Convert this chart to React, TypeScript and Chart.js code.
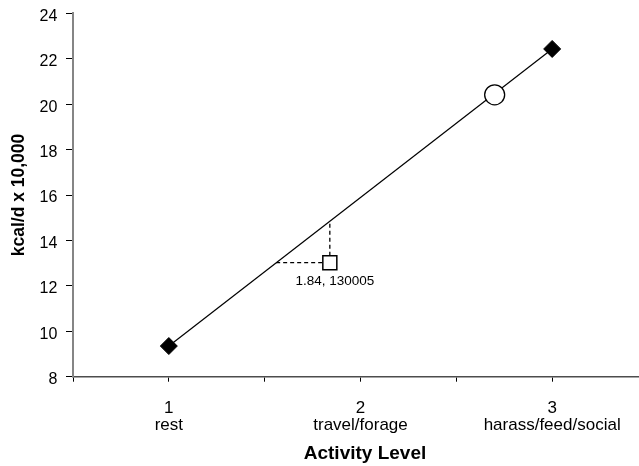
import React, { useEffect, useRef } from "react";
import { Chart, registerables } from "chart.js";

Chart.register(...registerables);

// ---- data ----
const activityLevels = [1, 2, 3];
const activityNames = ["rest", "travel/forage", "harass/feed/social"];
const fitX = [1, 3];
const fitY = [9.35, 22.43];
const circleX = [2.7];
const circleY = [20.41];
const squareX = [1.84];
const squareY = [13.02];
const squareNote = "1.84, 130005";
const dashVX = [1.84, 1.84];
const dashVY = [13.02, 14.8];
const dashHX = [1.56, 1.84];
const dashHY = [13.02, 13.02];
const xTickValues = [0.5, 1, 1.5, 2, 2.5, 3];
const yTitle = "kcal/d x 10,000";
const xTitle = "Activity Level";

const FONT = '"Liberation Sans", Arial, Helvetica, sans-serif';

const toPts = (xs: number[], ys: number[]) => xs.map((x, i) => ({ x, y: ys[i] }));

const notePlugin = {
  id: "pointNote",
  afterDatasetsDraw(chart: any) {
    const meta = chart.getDatasetMeta(0);
    const pt = meta.data[0];
    if (!pt) return;
    const ctx = chart.ctx;
    ctx.save();
    ctx.font = `13.5px ${FONT}`;
    ctx.fillStyle = "#000";
    ctx.textAlign = "center";
    ctx.textBaseline = "alphabetic";
    ctx.fillText(squareNote, pt.x + 5, pt.y + 22);
    ctx.restore();
  },
};

export default function App() {
  const ref = useRef<HTMLCanvasElement | null>(null);

  useEffect(() => {
    if (!ref.current) return;
    const chart = new Chart(ref.current, {
      type: "scatter",
      data: {
        datasets: [
          {
            data: toPts(squareX, squareY),
            pointStyle: "rect",
            pointRadius: 9.9,
            pointBackgroundColor: "#fff",
            pointBorderColor: "#000",
            pointBorderWidth: 1.5,
            showLine: false,
            clip: false,
          },
          {
            data: toPts(circleX, circleY),
            pointStyle: "circle",
            pointRadius: 10,
            pointBackgroundColor: "#fff",
            pointBorderColor: "#000",
            pointBorderWidth: 1.3,
            showLine: false,
            clip: false,
          },
          {
            data: toPts(fitX, fitY),
            showLine: true,
            borderColor: "#000",
            borderWidth: 1.2,
            pointStyle: "rectRot",
            pointRadius: 8.5,
            pointBackgroundColor: "#000",
            pointBorderColor: "#000",
            pointBorderWidth: 1,
            clip: false,
          },
          {
            data: toPts(dashVX, dashVY),
            showLine: true,
            borderColor: "#000",
            borderWidth: 1.3,
            borderDash: [4, 3],
            pointRadius: 0,
          },
          {
            data: toPts(dashHX, dashHY),
            showLine: true,
            borderColor: "#000",
            borderWidth: 1.3,
            borderDash: [4, 3],
            pointRadius: 0,
          },
        ],
      },
      options: {
        responsive: false,
        animation: false,
        layout: { padding: 0, autoPadding: false },
        plugins: {
          legend: { display: false },
          tooltip: { enabled: false },
        },
        scales: {
          x: {
            type: "linear",
            min: 0.5,
            max: 3.547,
            afterBuildTicks: (s: any) => {
              s.ticks = xTickValues.map((v) => ({ value: v }));
            },
            afterFit: (s: any) => {
              s.height = 89.3;
              s.paddingLeft = 0;
              s.paddingRight = 0;
            },
            border: { color: "#4d4d4d", width: 1.5 },
            grid: { drawOnChartArea: false, tickLength: 5, tickColor: "#000", tickWidth: 1 },
            ticks: {
              autoSkip: false,
              maxRotation: 0,
              minRotation: 0,
              padding: 18,
              color: "#000",
              font: { family: FONT, size: 17, lineHeight: 1 },
              callback: (value: any) => {
                const i = activityLevels.indexOf(Number(value));
                return i >= 0 ? [String(activityLevels[i]), activityNames[i]] : "";
              },
            },
            title: {
              display: true,
              text: xTitle,
              color: "#000",
              font: { family: FONT, size: 19, weight: "bold", lineHeight: 1.2 },
              padding: { top: 8, bottom: 0.5 },
            },
          },
          y: {
            type: "linear",
            min: 8,
            max: 24,
            afterFit: (s: any) => {
              s.width = 65;
              s.paddingTop = 5.3;
              s.paddingBottom = 0;
            },
            border: { color: "#858585", width: 2 },
            grid: { drawOnChartArea: false, tickLength: 7, tickColor: "#000", tickWidth: 1 },
            ticks: {
              stepSize: 2,
              padding: 8.7,
              labelOffset: 3,
              color: "#000",
              font: { family: FONT, size: 16, lineHeight: 0.66 },
            },
            title: {
              display: true,
              text: yTitle,
              color: "#000",
              font: { family: FONT, size: 17.5, weight: "bold", lineHeight: 1.2 },
              padding: { top: 0.6, bottom: 0 },
            },
          },
        },
      },
      plugins: [notePlugin],
    } as any);
    return () => chart.destroy();
  }, []);

  return (
    <div
      style={{
        position: "absolute",
        left: 8,
        top: 8,
        width: 631,
        height: 458,
        overflow: "hidden",
        background: "#fff",
      }}
    >
      <canvas ref={ref} width={649} height={458} style={{ display: "block" }} />
    </div>
  );
}
